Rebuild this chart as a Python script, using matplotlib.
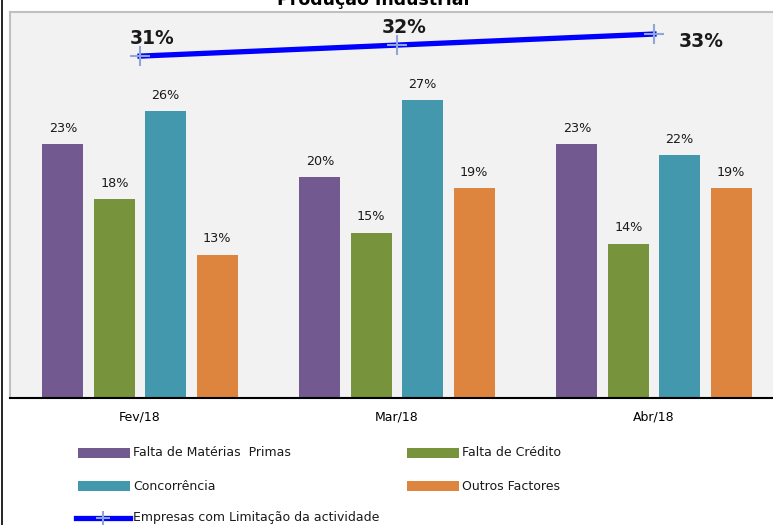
import matplotlib
matplotlib.use("Agg")
import matplotlib.pyplot as plt
from matplotlib.patches import Rectangle
from matplotlib.lines import Line2D
import numpy as np

plt.rcParams['font.family'] = ['DejaVu Sans']

W, H = 773, 525

categories = ["Fev/18", "Mar/18", "Abr/18"]
series_names = ["Falta de Matérias  Primas", "Falta de Crédito", "Concorrência", "Outros Factores"]
falta_materias = [23, 20, 23]
falta_credito = [18, 15, 14]
concorrencia = [26, 27, 22]
outros = [13, 19, 19]
limitacao = [31, 32, 33]
line_name = "Empresas com Limitação da actividade"
title = "Produção Industrial"

colors = ["#72598f", "#77933c", "#4398ae", "#dd843f"]
series = [falta_materias, falta_credito, concorrencia, outros]

fig = plt.figure(figsize=(W / 100, H / 100), dpi=100)
fig.patch.set_facecolor("white")

def fx(px):
    return px / W

def fy(py):
    return 1 - py / H

ax = fig.add_axes([fx(10), fy(398), (784 - 10) / W, (398 - 12) / H])
ax.set_facecolor("#f2f2f2")

x = np.arange(len(categories))
offsets = [-0.3, -0.1, 0.1, 0.3]
bw = 0.16
for vals, off, c in zip(series, offsets, colors):
    ax.bar(x + off, vals, width=bw, color=c, zorder=2)
    for xi, v in zip(x + off, vals):
        ax.annotate(f"{v}%", (xi, v), xytext=(0, 7), textcoords="offset points",
                    ha="center", va="bottom", fontsize=9.2, color="#1a1a1a")

ax.plot(x, limitacao, color="#0000ff", lw=3.8, zorder=3,
        marker="+", markersize=14, markeredgecolor="#8ea6d8", markeredgewidth=1.5)
label_offsets = [(9, 6), (5, 6), (34, -12)]
for xi, v, (dx, dy) in zip(x, limitacao, label_offsets):
    ax.annotate(f"{v}%", (xi, v), xytext=(dx, dy), textcoords="offset points",
                ha="center", va="bottom", fontsize=13.5, fontweight="bold", color="#1a1a1a")

ax.set_xlim(-0.506, 2.506)
ax.set_ylim(0, 35)
ax.set_yticks([])
ax.set_xticks(x)
ax.set_xticklabels(categories, fontsize=9)
ax.tick_params(axis="x", length=0, pad=9)
ax.spines["right"].set_visible(False)
for s in ["top", "left"]:
    ax.spines[s].set_color("#c0c0c0")
    ax.spines[s].set_linewidth(1.5)
ax.spines["bottom"].set_color("black")
ax.spines["bottom"].set_linewidth(1.5)

fig.text(fx(373), fy(5), title, ha="center", va="baseline", fontsize=12.5, fontweight="bold")

# outer border line at left
fig.add_artist(Line2D([fx(2), fx(2)], [0, 1], transform=fig.transFigure, color="black", lw=1.2))

# legend
leg_items = [
    (78, 453, 0), (407, 453, 1),
    (78, 486, 2), (407, 486, 3),
]
for px, py, i in leg_items:
    fig.add_artist(Rectangle((fx(px), fy(py + 5)), 52 / W, 10 / H, transform=fig.transFigure,
                             facecolor=colors[i], edgecolor="none"))
    fig.text(fx(px + 55), fy(py), series_names[i], ha="left", va="center", fontsize=9, color="#1a1a1a")

fig.add_artist(Line2D([fx(76), fx(130)], [fy(518), fy(518)], transform=fig.transFigure,
                      color="#0000ff", lw=3.8))
fig.add_artist(Line2D([fx(103)], [fy(518)], transform=fig.transFigure, marker="+",
                      markersize=10, markeredgecolor="#8ea6d8", markeredgewidth=1.5, lw=0))
fig.text(fx(133), fy(518), line_name, ha="left", va="center", fontsize=9, color="#1a1a1a")

fig.savefig("out.png", dpi=100)
